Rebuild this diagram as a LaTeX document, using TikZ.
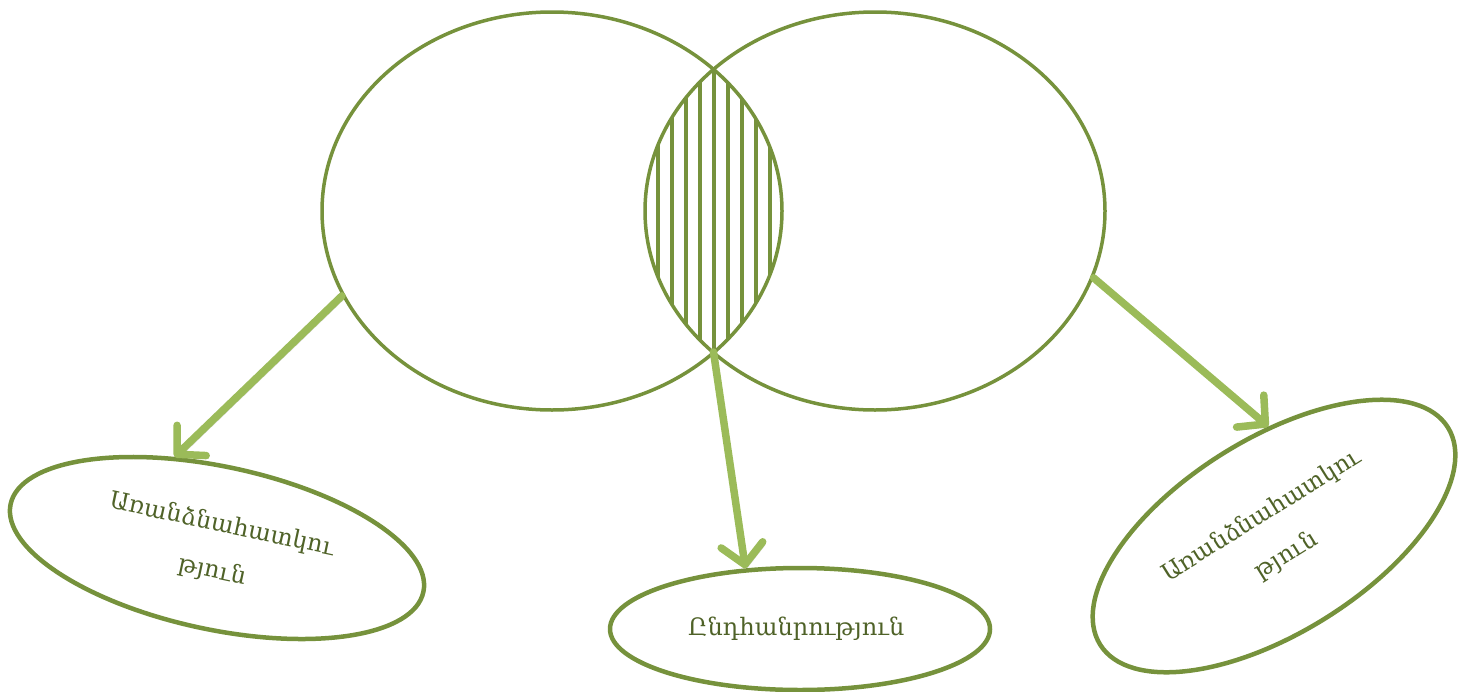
\documentclass[tikz,border=0pt]{standalone}
\usepackage{fontspec}
\setmainfont{DejaVu Serif}
\usetikzlibrary{shapes.geometric,arrows.meta}

\definecolor{olivedark}{HTML}{76923C}
\definecolor{olivelight}{HTML}{9BBB59}
\definecolor{olivetext}{HTML}{4F6228}

\begin{document}
\begin{tikzpicture}[x=1pt, y=-1pt,
    setring/.style={ellipse, draw=olivedark, line width=3.5pt, minimum width=460pt, minimum height=398pt},
    labelring/.style={ellipse, draw=olivedark, line width=4.5pt, text=olivetext, align=center,
        font=\fontsize{24}{47}\selectfont},
    pointer/.style={olivelight, line width=7.5pt, line cap=round,
        -{Straight Barb[length=20pt, width=42pt, round]},
        preaction={draw=black, opacity=0.2, transform canvas={xshift=2.5pt, yshift=-3pt}}}]

    \useasboundingbox (0,0) rectangle (1467,691);

    % The two sets
    \node[setring] (L) at (552,211) {};
    \node[setring] (R) at (875,211) {};
    \coordinate (cut) at (713.5,352);

    % Hatching of the common part
    \begin{scope}
        \clip (552,211) ellipse [x radius=230, y radius=199];
        \clip (875,211) ellipse [x radius=230, y radius=199];
        \foreach \x in {658,672,...,770} {
            \draw[olivedark, line width=3.2pt] (\x,0) -- (\x,430);
        }
    \end{scope}

    % Labels
    \node[labelring, minimum width=422pt, minimum height=163pt, rotate=-12] (A) at (217,548) {
        Առանձնահատկու\\թյուն
    };
    \node[labelring, minimum width=380pt, minimum height=122pt] (B) at (800,629) {
        Ընդհանրություն
    };
    \node[labelring, minimum width=410pt, minimum height=194pt, rotate=32] (C) at (1274,536) {
        Առանձնահատկու\\թյուն
    };

    % Arrows
    \draw[pointer] (L.202) -- (A.127);
    \draw[pointer] (cut) -- (B.132);
    \draw[pointer] (R.-17) -- (C.61);

\end{tikzpicture}
\end{document}
